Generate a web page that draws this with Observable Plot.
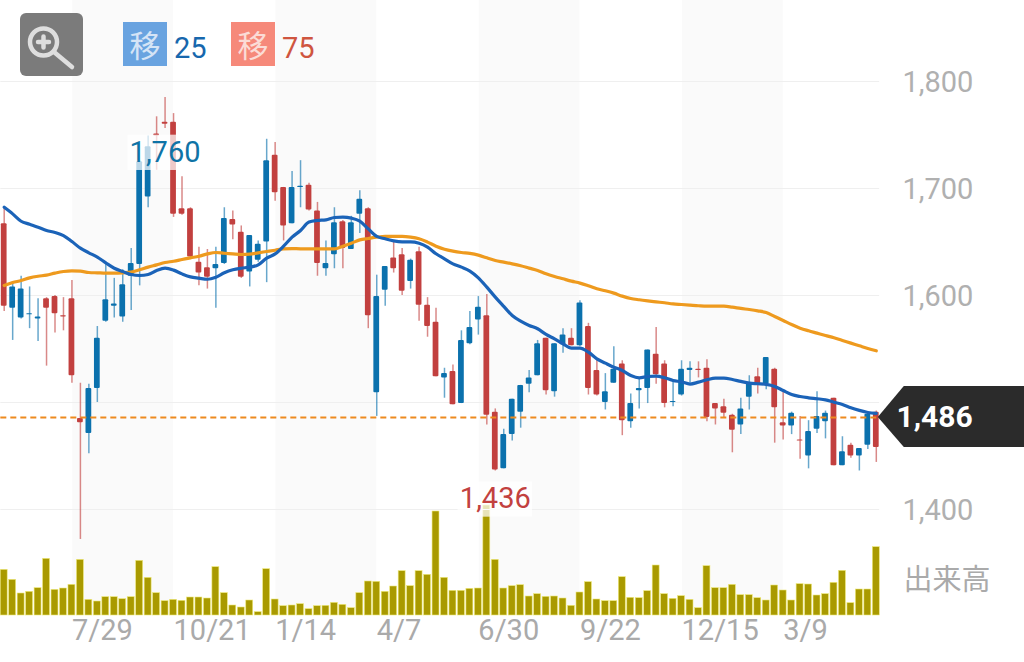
<!DOCTYPE html>
<html lang="ja">
<head>
<meta charset="utf-8">
<script src="https://cdn.jsdelivr.net/npm/d3@7"></script>
<script src="https://cdn.jsdelivr.net/npm/@observablehq/plot@0.6"></script>
<style>
html,body{margin:0;padding:0;background:#fff;width:1024px;height:662px;overflow:hidden;font-family:Roboto,"Noto Sans CJK JP",sans-serif}
#chart{position:relative;width:1024px;height:662px}
#chart svg.layer{position:absolute;left:0;top:0}
.chip{position:absolute;top:22px;width:44px;height:44px;text-align:center;font:31px/44px "Noto Sans CJK JP";}
.num{position:absolute;top:28px;font:29px/40px Roboto}
</style>
</head>
<body>
<div id="chart"></div>
<script>
const sides = [..."RBBBBRRRRRBBBBBBBBRRRRRRRBBRRBBBRRBBRRBBRBBRBBRRBRRRBRBBBRRBBBBBRBBRBRRBBRBBBRRBBBRRRRRBBRBRRBRBBBRBRBBR"];
const highs = [1682,1613,1618,1608,1597,1598,1600,1598,1614,1518,1517,1571,1630,1616,1624,1644,1726,1749,1767,1785,1770,1711,1682,1645,1643,1645,1682,1679,1665,1656,1651,1746,1743,1701,1716,1726,1705,1687,1651,1682,1670,1674,1698,1682,1619,1627,1650,1644,1634,1645,1598,1588,1532,1535,1567,1585,1599,1601,1494,1475,1503,1516,1530,1558,1560,1555,1569,1569,1595,1574,1541,1527,1552,1539,1508,1522,1549,1570,1539,1521,1539,1538,1538,1540,1499,1503,1489,1504,1525,1532,1542,1532,1510,1491,1487,1483,1510,1492,1504,1468,1462,1457,1489,1492];
const bodyTop = [1667,1608,1606,1583,1580,1597,1599,1581,1597,1485,1513,1560,1596,1592,1610,1630,1725,1739,1751,1762,1762,1681,1681,1631,1626,1629,1672,1671,1659,1656,1648,1726,1731,1701,1701,1702,1703,1679,1630,1668,1669,1668,1690,1681,1599,1627,1635,1638,1633,1641,1591,1575,1527,1529,1558,1570,1589,1581,1491,1470,1503,1516,1523,1555,1560,1555,1563,1560,1593,1571,1530,1510,1531,1536,1499,1513,1549,1545,1536,1501,1531,1532,1531,1532,1499,1496,1488,1494,1518,1524,1542,1531,1481,1490,1465,1473,1487,1490,1504,1454,1460,1457,1489,1491];
const bodyBottom = [1590,1588,1579,1582,1578,1588,1583,1580,1525,1481,1471,1513,1576,1590,1580,1618,1629,1692,1749,1760,1676,1676,1636,1621,1617,1625,1630,1666,1617,1622,1633,1650,1696,1665,1667,1701,1680,1630,1625,1638,1644,1643,1676,1581,1509,1605,1625,1604,1613,1591,1571,1524,1523,1498,1499,1555,1577,1488,1437,1438,1470,1491,1517,1525,1511,1510,1554,1553,1553,1513,1507,1500,1518,1483,1482,1511,1513,1526,1499,1500,1507,1530,1530,1486,1494,1490,1474,1479,1505,1517,1517,1495,1478,1478,1464,1450,1475,1482,1441,1441,1450,1450,1460,1458];
const lows = [1585,1558,1578,1569,1557,1534,1565,1567,1518,1372,1452,1500,1575,1579,1575,1586,1609,1682,1717,1756,1673,1675,1634,1609,1606,1588,1629,1652,1616,1608,1631,1612,1688,1651,1667,1682,1679,1618,1618,1625,1625,1643,1658,1569,1487,1590,1621,1600,1606,1576,1561,1524,1504,1498,1499,1554,1563,1479,1436,1438,1464,1476,1509,1525,1507,1505,1546,1553,1552,1507,1506,1493,1518,1469,1476,1494,1499,1517,1495,1496,1506,1518,1523,1482,1479,1485,1453,1470,1493,1508,1512,1462,1465,1470,1447,1438,1471,1466,1441,1441,1448,1436,1456,1444];
const ma25 = [1682.5,1676.3,1669.4,1666.6,1663.8,1660.7,1658.9,1656,1650.4,1644.2,1639.9,1635.8,1630.5,1625.5,1622.4,1619.6,1618.7,1619.6,1623.3,1625.5,1623.7,1620.2,1617.4,1616.2,1615.2,1617.1,1621.2,1624,1625.5,1626.5,1628.6,1634.9,1638.9,1646.1,1654.5,1660.8,1668.6,1670.1,1670.7,1672.9,1673.2,1672.3,1669.5,1662.3,1655.2,1653,1651.1,1650.2,1650.2,1648.9,1645.2,1639,1634.3,1629.6,1626.5,1622.8,1616.5,1607.8,1598.5,1589.8,1581.3,1576,1572,1568.9,1563.6,1559.5,1554.9,1550.8,1550.8,1547,1540.8,1536.8,1533,1529.9,1525.3,1523.1,1524.3,1524.6,1523.1,1520.6,1519.3,1517.2,1519,1521.2,1522.8,1522.8,1521.5,1519.7,1518.1,1517.5,1516.9,1515,1511.2,1507.5,1505.6,1504.4,1503.5,1502.5,1500.3,1498.2,1495,1492.6,1490.7,1489.8];
const ma75 = [1609.3,1612.1,1614,1616.5,1618,1619,1620.9,1622.4,1623,1622.7,1621.5,1621.2,1620.9,1620.9,1621.2,1621.8,1624,1626.5,1628.6,1630.8,1632,1633.6,1635.2,1636.7,1638.9,1640.2,1639.5,1638.9,1638.3,1638.6,1639.9,1641.1,1642.3,1643.6,1643.9,1643.6,1643.6,1643.6,1643.6,1643.6,1646.1,1648.9,1652,1653.3,1654.5,1655.2,1655.2,1655.2,1654.5,1653,1649.9,1646.1,1643.3,1641.5,1640.2,1639.3,1637.7,1635.2,1632.7,1631.2,1629.6,1627.8,1625.6,1623.4,1620.3,1617.8,1615.6,1613.4,1611.6,1609.1,1606.3,1604.4,1602.2,1599.4,1597.2,1596,1595,1594.1,1593.2,1592.2,1591.6,1591,1590.4,1590,1590,1590,1589.1,1587.9,1586.9,1585.7,1584.1,1580.4,1576.7,1572.9,1569.5,1567,1564.8,1562.6,1560.5,1558,1555.5,1553,1550.5,1548.3];
const volumes = [137,107,66,71,82,170,77,81,92,167,47,42,55,55,49,55,164,113,67,43,47,44,54,54,51,145,67,30,24,45,10,139,48,28,30,34,19,28,29,38,32,22,67,102,101,71,87,133,88,133,122,312,113,74,74,80,81,330,167,81,88,91,57,64,56,57,51,29,69,100,48,43,43,115,53,52,73,150,64,50,58,47,22,148,82,82,92,61,61,52,45,90,75,45,94,93,60,64,98,134,37,78,78,205];
const gridPrices = [1400,1500,1600,1700,1800];
const labelledPrices = [1400,1600,1700,1800];
const dateIndex = [8,20,32,44,56,68,80,92];
const dateLabels = ["7/29","10/21","1/14","4/7","6/30","9/22","12/15","3/9"];
const lastPrice = 1486;
const notes = [{i:19,v:1760,color:"#0f73a6"},{i:58,v:1436,color:"#c2413f"}];

const RED="#c2403f", BLUE="#0b71ad";
const idx = d3.range(sides.length);
const color = i => sides[i]==="R"?RED:BLUE;
const X = {type:"linear",domain:[0,103],range:[3.7,875.8]};
const bands = d3.range(0,dateIndex.length,2).map(k=>[dateIndex[k]+.1,dateIndex[k+1]]);

const volumePlot = Plot.plot({
  width:1024,height:662,marginLeft:0,marginRight:144,marginTop:0,marginBottom:47,
  style:{background:"transparent",fontFamily:"Roboto,'Noto Sans CJK JP'"},
  x:X,
  y:{axis:null,domain:[0,330],range:[615,505]},
  marks:[
    Plot.rect(bands,{x1:d=>d[0],x2:d=>d[1],fill:"#fafafa"}),
    Plot.rect(idx,{x1:i=>i-.41,x2:i=>i+.41,y1:0,y2:i=>volumes[i],fill:"#a99a00",stroke:"#efe97a",strokeWidth:.6}),
    Plot.axisX(dateIndex,{anchor:"bottom",tickSize:0,tickPadding:4,textAnchor:"start",fontSize:29,fill:"#aaa",tickFormat:i=>dateLabels[dateIndex.indexOf(i)]}),
    Plot.text(["出来高"],{frameAnchor:"right",dx:23,y:()=>103,textAnchor:"start",fontSize:29,fill:"#aaa",fontFamily:"Noto Sans CJK JP"})
  ]
});
volumePlot.classList.add("layer");

const tag = (index,scales)=>{
  const y=scales.y(lastPrice), x=scales.x(103)+2;
  return d3.create("svg:path").attr("fill","#2b2b2b")
    .attr("d",`M${x},${y}L${x+26},${y-31}H1024V${y+30}H${x+26}Z`).node();
};

const pricePlot = Plot.plot({
  width:1024,height:662,marginLeft:0,marginRight:144,marginTop:81,marginBottom:153,
  style:{background:"transparent",fontFamily:"Roboto,'Noto Sans CJK JP'"},
  x:{...X,axis:null},
  y:{domain:[1400,1800],range:[509,81]},
  marks:[
    Plot.ruleY(gridPrices,{x1:-.4,x2:103.4,stroke:"#efefef",strokeWidth:1}),
    Plot.axisY(labelledPrices,{anchor:"right",label:null,tickSize:0,tickPadding:22,dy:1,textAnchor:"start",fontSize:29,fill:"#b0b0b0",tickFormat:d3.format(",")}),
    Plot.ruleX(idx,{x:i=>i,y1:i=>lows[i],y2:i=>highs[i],stroke:color,strokeOpacity:.62,strokeWidth:1.5}),
    Plot.rect(idx,{x1:i=>i-.34,x2:i=>i+.34,y1:i=>bodyBottom[i],y2:i=>bodyTop[i],fill:color,rx:1}),
    Plot.lineY(ma75,{x:(d,i)=>i,y:d=>d,stroke:"#ee9a1e",strokeWidth:3.2,curve:"monotone-x"}),
    Plot.lineY(ma25,{x:(d,i)=>i,y:d=>d,stroke:"#1b63b8",strokeWidth:3.2,curve:"monotone-x"}),
    Plot.ruleY([lastPrice],{x1:-.4,x2:103.4,stroke:"#ee8a1e",strokeWidth:2,strokeDasharray:"6 4"}),
    tag,
    Plot.text([lastPrice],{frameAnchor:"right",dx:16,y:d=>d,text:d3.format(","),textAnchor:"start",fontSize:30,fontWeight:700,fill:"#fff"}),
    Plot.rect(notes,{x1:d=>d.i-4.4,x2:d=>d.i+4.4,y1:d=>d.v-17,y2:d=>d.v+16,dy:28,fill:"#fff",fillOpacity:.72}),
    Plot.text(notes,{x:"i",y:"v",dy:28,text:d=>d3.format(",")(d.v),fill:d=>d.color,fontSize:29})
  ]
});
pricePlot.classList.add("layer");

const root=document.getElementById("chart");
root.append(volumePlot,pricePlot);

const legendEl=document.createElement("div");
legendEl.innerHTML=`
<svg style="position:absolute;left:20px;top:13px" width="63" height="63" viewBox="0 0 63 63">
<rect width="63" height="63" rx="6" fill="#7b7b7b"/>
<circle cx="23.5" cy="29" r="13.5" fill="none" stroke="#dedede" stroke-width="4.5"/>
<path d="M34 39L52 54" stroke="#dedede" stroke-width="4.5" stroke-linecap="round"/>
<path d="M23.5 23.5V34.5M18 29H29" stroke="#dedede" stroke-width="4.5" stroke-linecap="round"/>
</svg>
<div class="chip" style="left:123px;background:#69a3e0;color:#d5e4f6">移</div>
<div class="num" style="left:174px;color:#1767ad">25</div>
<div class="chip" style="left:231px;background:#f6897a;color:#fbdcd6">移</div>
<div class="num" style="left:282px;color:#cf553f">75</div>`;
root.append(legendEl);
</script>
</body>
</html>
